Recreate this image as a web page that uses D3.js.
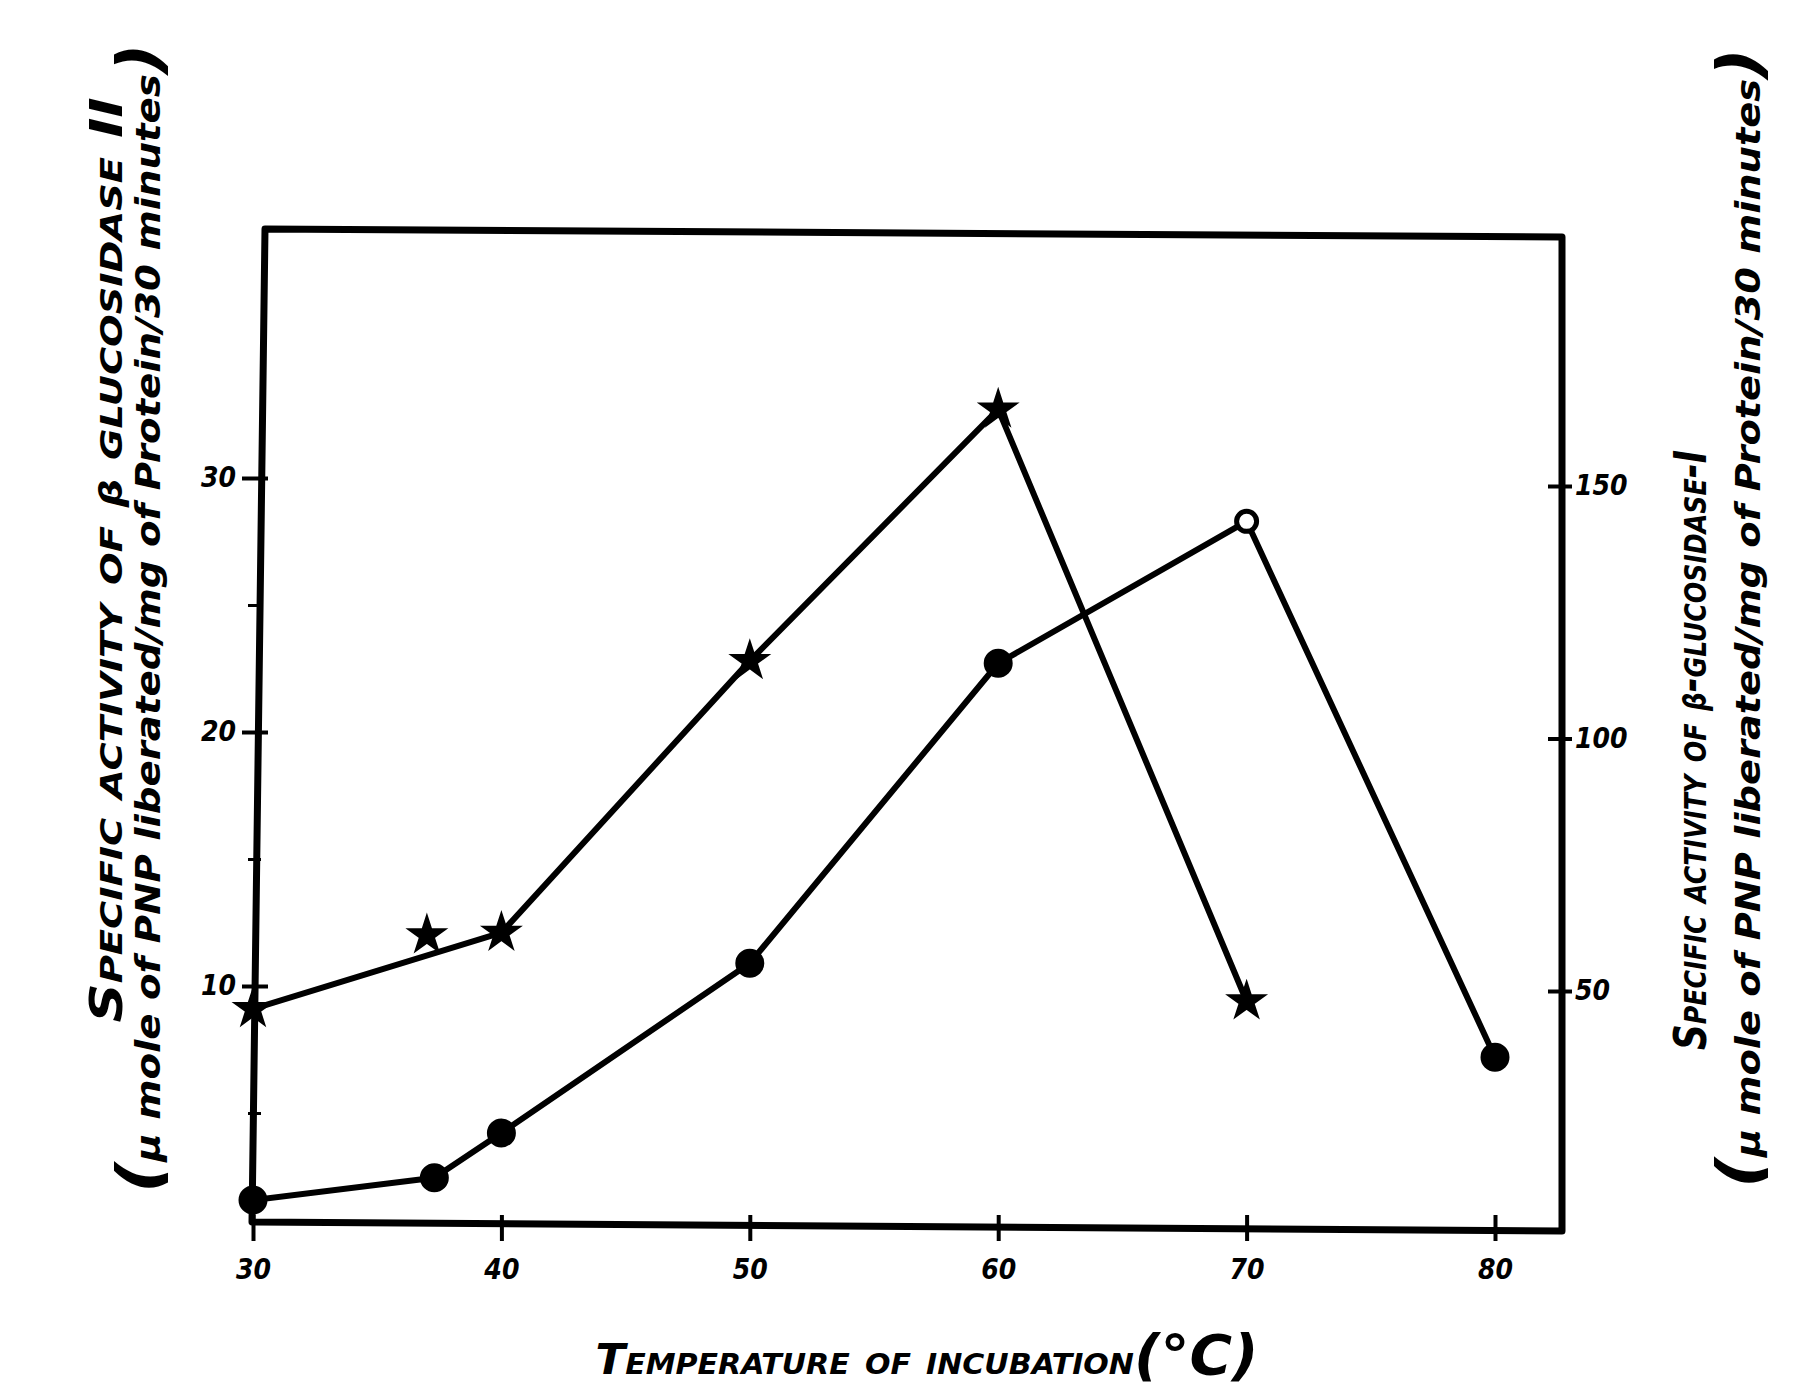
<!DOCTYPE html>
<html>
<head>
<meta charset="utf-8">
<script src="https://cdn.jsdelivr.net/npm/d3@7"></script>
<style>
  body { margin: 0; background: #fff; }
  text { font-family: "Liberation Sans Narrow", "DejaVu Sans Condensed", "Liberation Sans", sans-serif;
         font-style: italic; font-weight: bold; fill: #000; }
</style>
</head>
<body>
<svg id="chart" width="1794" height="1392"></svg>
<script>
// values
const temps = [30, 40, 50, 60, 70, 80];

// beta glucosidase II (stars, left axis)
const enzymeIITemps = [30, 40, 50, 60, 70];
const enzymeIIValues = [9.1, 12.1, 22.8, 32.7, 9.4];
// stray star not on the line
const enzymeIIExtraTemps = [37.0];
const enzymeIIExtraValues = [12.0];

// beta glucosidase I (dots, right axis)
const enzymeITemps = [30, 37.3, 40, 50, 60, 70, 80];
const enzymeIValues = [8.6, 13, 21.9, 55.5, 114.9, 143, 36.9];

const leftTicks = [10, 20, 30];
const leftMinorTicks = [5, 15, 25];
const rightTicks = [50, 100, 150];

const svg = d3.select("#chart");

const x = d3.scaleLinear().domain([30, 80]).range([253, 1495]);
const yL = d3.scaleLinear().domain([0, 40]).range([1240, 224]);
const yR = d3.scaleLinear().domain([0, 200]).range([1243.5, 233.5]);

// hand drawn frame, slightly skewed
svg.append("path")
  .attr("d", "M252,1222 L265,229 L1562,237 L1562,1231 Z")
  .attr("fill", "none")
  .attr("stroke", "#000")
  .attr("stroke-width", 7)
  .attr("stroke-linejoin", "round");

// left axis
const gL = svg.append("g")
  .attr("transform", "translate(258,0)")
  .call(d3.axisLeft(yL).tickValues(leftTicks).tickSize(14).tickPadding(8).tickFormat(d3.format("d")));
gL.select(".domain").remove();
gL.selectAll(".tick line").attr("x1", 10).attr("x2", -16).attr("stroke-width", 4);
gL.selectAll(".tick text").attr("font-size", 28);

const gLm = svg.append("g")
  .attr("transform", "translate(258,0)")
  .call(d3.axisLeft(yL).tickValues(leftMinorTicks).tickSize(10).tickFormat(""));
gLm.select(".domain").remove();
gLm.selectAll(".tick line").attr("x1", 3).attr("stroke-width", 3);

// right axis
const gR = svg.append("g")
  .attr("transform", "translate(1562,0)")
  .call(d3.axisRight(yR).tickValues(rightTicks).tickSize(10).tickPadding(3).tickFormat(d3.format("d")));
gR.select(".domain").remove();
gR.selectAll(".tick line").attr("x1", -14).attr("x2", 10).attr("stroke-width", 4);
gR.selectAll(".tick text").attr("font-size", 28);

// bottom axis
const gB = svg.append("g")
  .attr("transform", "translate(0,1227)")
  .call(d3.axisBottom(x).tickValues(temps).tickSize(12).tickPadding(20).tickFormat(d3.format("d")));
gB.select(".domain").remove();
gB.selectAll(".tick line").attr("y1", -12).attr("y2", 14).attr("stroke-width", 4);
gB.selectAll(".tick text").attr("font-size", 28);

// series II line + stars
const dataII = enzymeIITemps.map((t, i) => ({ t: t, v: enzymeIIValues[i] }));
const lineL = d3.line().x(d => x(d.t)).y(d => yL(d.v));
svg.append("path")
  .datum(dataII)
  .attr("d", lineL)
  .attr("fill", "none")
  .attr("stroke", "#000")
  .attr("stroke-width", 6)
  .attr("stroke-linejoin", "round");

const star = d3.symbol().type(d3.symbolStar).size(420);
const extraII = enzymeIIExtraTemps.map((t, i) => ({ t: t, v: enzymeIIExtraValues[i] }));
svg.selectAll(".star")
  .data(dataII.concat(extraII))
  .join("path")
  .attr("class", "star")
  .attr("d", star)
  .attr("transform", d => "translate(" + x(d.t) + "," + yL(d.v) + ")")
  .attr("fill", "#000")
  .attr("stroke", "#000")
  .attr("stroke-width", 2);

// series I line + dots
const dataI = enzymeITemps.map((t, i) => ({ t: t, v: enzymeIValues[i] }));
const lineR = d3.line().x(d => x(d.t)).y(d => yR(d.v));
svg.append("path")
  .datum(dataI)
  .attr("d", lineR)
  .attr("fill", "none")
  .attr("stroke", "#000")
  .attr("stroke-width", 6)
  .attr("stroke-linejoin", "round");

svg.selectAll(".dot")
  .data(dataI)
  .join("circle")
  .attr("class", "dot")
  .attr("cx", d => x(d.t))
  .attr("cy", d => yR(d.v))
  .attr("r", d => d.t === 70 ? 10 : 12)
  .attr("fill", d => d.t === 70 ? "#fff" : "#000")
  .attr("stroke", "#000")
  .attr("stroke-width", 5);

// axis titles
function title(tx, ty, rot, len, size, parts) {
  const t = svg.append("text")
    .attr("transform", "translate(" + tx + "," + ty + ")" + (rot ? " rotate(" + rot + ")" : ""))
    .attr("text-anchor", "middle")
    .attr("font-size", size)
    .attr("textLength", len)
    .attr("lengthAdjust", "spacingAndGlyphs");
  parts.forEach(p => {
    const s = t.append("tspan").text(p.text);
    if (p.size) s.attr("font-size", p.size);
    if (p.caps) s.style("font-variant", "small-caps");
  });
}

title(122, 560, -90, 925, 44, [
  { text: "Specific activity of ", caps: true },
  { text: "β", size: 32 },
  { text: " glucosidase II", caps: true }
]);
title(160, 618, -90, 1150, 34, [
  { text: "(", size: 60 },
  { text: "μ mole of PNP liberated/mg of Protein/30 minutes" },
  { text: ")", size: 60 }
]);

title(1706, 750, -90, 600, 44, [
  { text: "Specific activity of ", caps: true },
  { text: "β", size: 32 },
  { text: "-glucosidase-I", caps: true }
]);
title(1760, 618, -90, 1140, 34, [
  { text: "(", size: 60 },
  { text: "μ mole of PNP liberated/mg of Protein/30 minutes" },
  { text: ")", size: 60 }
]);

title(927, 1374, 0, 663, 42, [
  { text: "Temperature of incubation", caps: true },
  { text: "(°C)", size: 56 }
]);
</script>
</body>
</html>
